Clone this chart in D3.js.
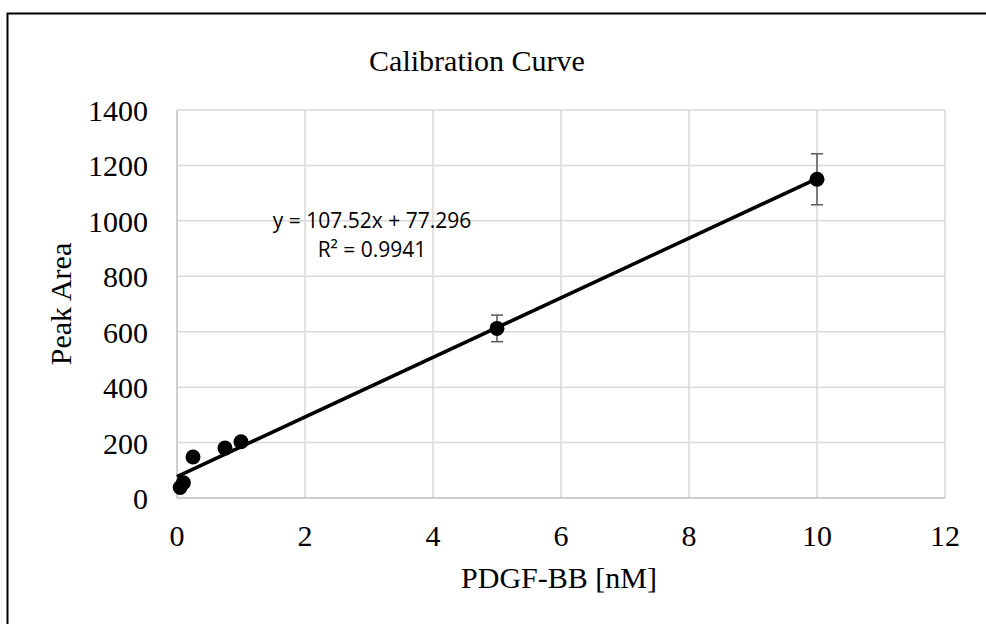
<!DOCTYPE html>
<html>
<head>
<meta charset="utf-8">
<script src="https://cdn.jsdelivr.net/npm/d3@7"></script>
<style>
  body { margin: 0; background: #fff; }
  text { font-family: "Liberation Serif", "Times New Roman", serif; }
</style>
</head>
<body>
<script>
// data
var conc = [0.05, 0.1, 0.25, 0.75, 1, 5, 10];
var area = [38, 55, 148, 180, 203, 612, 1150];
var errs = [0, 0, 0, 0, 0, 48, 92];
var xTicks = [0, 2, 4, 6, 8, 10, 12];
var yTicks = [0, 200, 400, 600, 800, 1000, 1200, 1400];
var slope = 107.52, intercept = 77.296;

var width = 986, height = 624;
var svg = d3.select("body").append("svg")
    .attr("width", width)
    .attr("height", height);

// chart border
svg.append("rect")
    .attr("x", 7.5).attr("y", 13.5)
    .attr("width", 990).attr("height", 640)
    .attr("fill", "none")
    .attr("stroke", "#000")
    .attr("stroke-width", 2);

var x = d3.scaleLinear().domain([0, 12]).range([177, 945]);
var y = d3.scaleLinear().domain([0, 1400]).range([498, 110]);

// gridlines
svg.selectAll(".gx").data(xTicks.slice(1)).enter().append("line")
    .attr("x1", d => x(d)).attr("x2", d => x(d))
    .attr("y1", y(0)).attr("y2", y(1400))
    .attr("stroke", "#d9d9d9").attr("stroke-width", 1.5);
svg.selectAll(".gy").data(yTicks.slice(1)).enter().append("line")
    .attr("x1", x(0)).attr("x2", x(12))
    .attr("y1", d => y(d)).attr("y2", d => y(d))
    .attr("stroke", "#d9d9d9").attr("stroke-width", 1.5);

// axis lines
svg.append("line").attr("x1", x(0)).attr("x2", x(12)).attr("y1", y(0)).attr("y2", y(0))
    .attr("stroke", "#bfbfbf").attr("stroke-width", 1.5);
svg.append("line").attr("x1", x(0)).attr("x2", x(0)).attr("y1", y(0)).attr("y2", y(1400))
    .attr("stroke", "#bfbfbf").attr("stroke-width", 1.5);

// tick labels
svg.selectAll(".xl").data(xTicks).enter().append("text")
    .attr("x", d => x(d)).attr("y", 546)
    .attr("text-anchor", "middle")
    .attr("font-size", 30)
    .text(d => d);
svg.selectAll(".yl").data(yTicks).enter().append("text")
    .attr("x", 148).attr("y", d => y(d) + 11)
    .attr("text-anchor", "end")
    .attr("font-size", 30)
    .text(d => d);

// titles
svg.append("text").attr("x", 477).attr("y", 71)
    .attr("text-anchor", "middle").attr("font-size", 30)
    .text("Calibration Curve");
svg.append("text").attr("x", 559).attr("y", 588)
    .attr("text-anchor", "middle").attr("font-size", 30)
    .text("PDGF-BB [nM]");
svg.append("text")
    .attr("transform", "translate(71,304) rotate(-90)")
    .attr("text-anchor", "middle").attr("font-size", 30)
    .text("Peak Area");

// trendline
svg.append("line")
    .attr("x1", x(0)).attr("y1", y(intercept))
    .attr("x2", x(10)).attr("y2", y(slope * 10 + intercept))
    .attr("stroke", "#000").attr("stroke-width", 3.5);

// error bars
var pts = conc.map((c, i) => ({x: c, y: area[i], e: errs[i]}));
var eb = svg.selectAll(".eb").data(pts.filter(d => d.e > 0)).enter().append("g")
    .attr("stroke", "#595959").attr("stroke-width", 1.5);
eb.append("line")
    .attr("x1", d => x(d.x)).attr("x2", d => x(d.x))
    .attr("y1", d => y(d.y - d.e)).attr("y2", d => y(d.y + d.e));
eb.append("line")
    .attr("x1", d => x(d.x) - 6).attr("x2", d => x(d.x) + 6)
    .attr("y1", d => y(d.y - d.e)).attr("y2", d => y(d.y - d.e));
eb.append("line")
    .attr("x1", d => x(d.x) - 6).attr("x2", d => x(d.x) + 6)
    .attr("y1", d => y(d.y + d.e)).attr("y2", d => y(d.y + d.e));

// points
svg.selectAll(".pt").data(pts).enter().append("circle")
    .attr("cx", d => x(d.x)).attr("cy", d => y(d.y))
    .attr("r", 7.5)
    .attr("fill", "#000");

// equation label
var eq = svg.append("text")
    .attr("text-anchor", "middle")
    .attr("font-size", 21)
    .style("font-family", "'Open Sans', 'Liberation Sans', sans-serif");
eq.append("tspan").attr("x", 372).attr("y", 228).text("y = " + slope + "x + " + intercept);
eq.append("tspan").attr("x", 372).attr("y", 257).text("R² = 0.9941");
</script>
</body>
</html>
